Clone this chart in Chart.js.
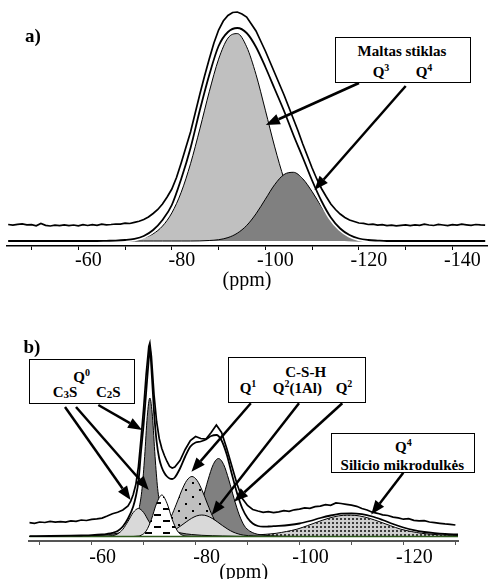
<!DOCTYPE html>
<html>
<head>
<meta charset="utf-8">
<script src="https://cdn.jsdelivr.net/npm/chart.js@4.4.0/dist/chart.umd.min.js"></script>
<style>
    body { margin: 0; background: #fff; }
    #wrap { position: relative; width: 488px; height: 579px; overflow: hidden; font-family: "Liberation Serif", "Times New Roman", serif; }
    canvas { position: absolute; left: 0; }
    #chartA { top: 0; }
    #chartB { top: 290px; }
    .box { position: absolute; border: 1.5px solid #000; background: #fff; box-sizing: border-box; }
    .lbl { position: absolute; font-weight: bold; font-size: 15px; line-height: 1; white-space: nowrap; transform: translate(-50%, -50%); color: #000; }
    .panel { font-size: 19px; }
    .lbl sup { font-size: 10px; line-height: 0; vertical-align: 6px; }
    .lbl sub { font-size: 11px; line-height: 0; vertical-align: -1px; }
</style>
</head>
<body>
<div id="wrap">
    <canvas id="chartA" width="488" height="290"></canvas>
    <canvas id="chartB" width="488" height="289"></canvas>

    <div class="lbl panel" style="left:33px; top:35px;">a)</div>
    <div class="box" style="left:334.7px; top:36.7px; width:136px; height:46px;"></div>
    <div class="lbl" style="left:402px; top:51px;">Maltas stiklas</div>
    <div class="lbl" style="left:381px; top:71.5px;">Q<sup>3</sup></div>
    <div class="lbl" style="left:424px; top:71.5px;">Q<sup>4</sup></div>

    <div class="lbl panel" style="left:32px; top:346px;">b)</div>
    <div class="box" style="left:29.3px; top:359.3px; width:105.7px; height:44.7px;"></div>
    <div class="lbl" style="left:81.7px; top:376.7px;">Q<sup>0</sup></div>
    <div class="lbl" style="left:65px; top:392.3px;">C<sub>3</sub>S</div>
    <div class="lbl" style="left:108.3px; top:392.3px;">C<sub>2</sub>S</div>

    <div class="box" style="left:228.3px; top:356.5px; width:137.4px; height:46.8px;"></div>
    <div class="lbl" style="left:305.7px; top:371.7px;">C-S-H</div>
    <div class="lbl" style="left:248px; top:387.5px;">Q<sup>1</sup></div>
    <div class="lbl" style="left:297.3px; top:387.5px;">Q<sup>2</sup>(1Al)</div>
    <div class="lbl" style="left:344px; top:387.5px;">Q<sup>2</sup></div>

    <div class="box" style="left:331.3px; top:432.7px; width:143.4px; height:40px;"></div>
    <div class="lbl" style="left:403.3px; top:446.5px;">Q<sup>4</sup></div>
    <div class="lbl" style="left:402.3px; top:464.5px;">Silicio mikrodulkės</div>
</div>

<script>
// ---------- a) ground glass ----------
const aPpm = [-45, -48, -50, -52, -54, -56, -58, -60, -62, -64,
    -66, -68, -70, -72, -74, -76, -78, -80, -82, -84,
    -86, -88, -90, -92, -94, -96, -98, -100, -102, -104,
    -106, -108, -110, -112, -114, -116, -118, -120, -122, -124,
    -126, -128, -130, -132, -134, -136, -138, -140, -142, -144, -147];
const q3Glass = [0, 0, 0, 0, 0, 0, 0, 0, 0, 0,
    0.1, 0.2, 0.5, 1.3, 3.2, 7.2, 14.9, 28.1, 48.7, 77.3,
    112.2, 149.2, 181.8, 202.9, 207.4, 194.2, 166.5, 130.8, 94.1, 62,
    37.4, 20.7, 10.5, 4.9, 2.1, 0.8, 0.3, 0.1, 0, 0,
    0, 0, 0, 0, 0, 0, 0, 0, 0, 0, 0];
const q4Glass = [0, 0, 0, 0, 0, 0, 0, 0, 0, 0,
    0, 0, 0, 0, 0, 0, 0, 0, 0, 0,
    0.1, 0.5, 1.3, 3.4, 7.8, 15.5, 27.2, 41.8, 56.4, 66.5,
    68.7, 62.2, 49.4, 34.3, 20.9, 11.2, 5.2, 2.1, 0.8, 0.3,
    0, 0, 0, 0, 0, 0, 0, 0, 0, 0, 0];
const fitA = [0, 0, 0, 0, 0, 0, 0, 0, 0, 0,
    0.2, 0.4, 1, 2.2, 5, 11, 21, 36, 62, 93,
    131, 166, 195, 209, 213, 208, 194, 174, 152, 130,
    106, 83.5, 60.5, 40, 23.5, 12.5, 6, 2.5, 1, 0.4,
    0, 0, 0, 0, 0, 0, 0, 0, 0, 0, 0];

const expAPpm = [-45, -46, -47, -48, -49, -50, -51, -52, -53, -54,
    -55, -56, -57, -58, -59, -60, -61, -62, -63, -64,
    -65, -66, -67, -68, -69, -70, -71, -72, -73, -74,
    -75, -76, -77, -78, -79, -80, -81, -82, -83, -84,
    -85, -86, -87, -88, -89, -90, -91, -92, -93, -94,
    -95, -96, -97, -98, -99, -100, -101, -102, -103, -104,
    -105, -106, -107, -108, -109, -110, -111, -112, -113, -114,
    -115, -116, -117, -118, -119, -120, -121, -122, -123, -124,
    -125, -126, -127, -128, -129, -130, -131, -132, -133, -134,
    -135, -136, -137, -138, -139, -140, -141, -142, -143, -144,
    -145, -146, -147];
const expA = [0.5, -0.2, 0.6, 1.2, 0.1, 0.4, -0.8, 1.5, -0.4, -1.0,
    -0.2, -0.7, 0.2, -0.6, 0.0, -0.9, 0.3, -0.5, 0.4, -0.3,
    0.8, 0.2, 0.5, 1.0, 0.9, 1.8, 1.5, 2.6, 3.8, 5.5,
    8, 11.5, 15.5, 21, 28, 36, 47.5, 62, 77.5, 93,
    112, 131, 149, 166, 182, 195, 204, 209.5, 212.5, 213,
    211, 208, 201, 194, 184, 174, 163, 152, 141, 130,
    118, 106, 94, 81, 69, 57, 46, 36.5, 28.5, 21,
    15.5, 11, 7.5, 5, 3.5, 2, 1.6, 0.5, 0.9, -0.2,
    0.4, -0.7, -0.1, -0.9, -0.4, 0.2, -0.6, 0.1, -0.3, 0.8,
    0.0, -0.5, 0.6, 0.0, -0.6, 0.3, -0.2, 0.9, 0.2, -0.4,
    0.5, 0.1, -0.1];

// ---------- b) hydrated paste ----------
const c3sPpm = [-48, -62, -64, -65, -66, -67, -68, -69, -70, -71, -72, -73, -74, -76, -78, -130.5];
const c3s = [0, 0.3, 0.9, 2.6, 7.2, 15.2, 24, 28, 24, 15.2, 7.2, 2.6, 0.9, 0.3, 0, 0];

const c2sPpm = [-48, -51.2, -57.2, -61.2, -63.2, -65.2, -66.2, -67.2, -68.2, -68.7,
    -69.2, -69.7, -70.2, -70.7, -71.2, -71.7, -72.2, -72.7, -73.2, -73.7,
    -74.2, -75.2, -76.2, -77.2, -79.2, -81.2, -85.2, -91.2, -130.5];
const c2s = [0, 0, 0.5, 1.2, 2, 3.5, 5, 8, 14, 20,
    30, 48, 80, 120, 138.5, 120, 80, 48, 30, 20,
    14, 8, 5, 3.5, 2, 1.2, 0.5, 0, 0];

const dashPpm = [-48, -67.5, -68.5, -69.5, -70.5, -71.5, -72.5, -73.5, -74.5, -75.5, -76.5, -77.5, -78.5, -79.5, -130.5];
const dashPeak = [0, 0, 0.2, 1.2, 5.6, 17.1, 33.2, 41.5, 33.2, 17.1, 5.6, 1.2, 0.2, 0, 0];

const q1Ppm = [-48, -67.3, -69.3, -71.3, -72.3, -73.3, -74.3, -75.3, -76.3, -77.3, -78.3, -79.3,
    -80.3, -81.3, -82.3, -83.3, -84.3, -85.3, -86.3, -87.3, -89.3, -91.3, -130.5];
const q1 = [0, 0, 0.5, 1.5, 2.8, 5.3, 11, 20, 32.4, 45.6, 56, 60,
    56, 45.6, 32.4, 20, 11, 5.3, 2.8, 1.5, 0.5, 0, 0];

const q2AlPpm = [-48, -67.2, -69.2, -71.2, -73.2, -74.2, -75.2, -76.2, -77.2, -78.2, -79.2, -80.2, -81.2,
    -82.2, -83.2, -84.2, -85.2, -86.2, -87.2, -88.2, -89.2, -91.2, -93.2, -95.2, -130.5];
const q2Al = [0, 0, 0.2, 0.6, 1.4, 2.6, 4.5, 7.3, 10.8, 14.6, 18.1, 20.6, 21.5,
    20.6, 18.1, 14.6, 10.8, 7.3, 4.5, 2.6, 1.4, 0.6, 0.2, 0, 0];

const q2Ppm = [-48, -69.4, -72.4, -74.4, -76.4, -77.4, -78.4, -79.4, -80.4, -81.4, -82.4, -83.4, -84.4,
    -85.4, -86.4, -87.4, -88.4, -89.4, -90.4, -91.4, -92.4, -94.4, -96.4, -99.4, -130.5];
const q2 = [0, 0, 0.3, 0.8, 1.8, 3, 5.5, 10.6, 21.7, 38, 56.6, 72, 78,
    72, 56.6, 38, 21.7, 10.6, 5.5, 3, 1.8, 0.8, 0.3, 0, 0];

const silicaPpm = [-48, -73.5, -79.5, -85.5, -89.5, -91.5, -93.5, -95.5, -97.5, -99.5, -101.5, -103.5, -105.5,
    -107.5, -109.5, -111.5, -113.5, -115.5, -117.5, -119.5, -121.5, -123.5, -125.5, -127.5, -129.5, -130.5];
const silica = [0, 0, 0.2, 0.6, 1.1, 1.5, 2.2, 3.2, 5, 7.3, 10.8, 14.6, 18.1,
    20.6, 21.5, 20.6, 18.1, 14.6, 10.8, 7.3, 5, 3.2, 2.2, 1.5, 1.1, 1.0];

const fitBPpm = [-48, -52, -56, -58, -60, -62, -63, -64, -65, -66,
    -67, -68, -68.5, -69, -69.5, -70, -70.5, -71, -71.2, -71.5,
    -72, -72.5, -73, -73.5, -74, -74.5, -75, -75.5, -76, -77,
    -78, -79, -80, -81, -82, -83, -84, -85, -86, -87,
    -88, -89, -90, -91, -92, -93, -94, -95, -96, -98,
    -100, -102, -104, -106, -108, -110, -112, -114, -116, -118,
    -120, -122, -124, -126, -128, -130.5];
const fitB = [0.3, 0.5, 0.8, 1.0, 1.3, 2.0, 2.7, 3.7, 5.5, 10,
    18, 30, 40, 55, 85, 112, 145, 178, 189, 168,
    125, 95, 78, 69, 63.5, 60, 58, 57.5, 59, 68,
    80, 90, 94, 95, 97, 100.5, 101.5, 96, 82, 62,
    43, 28, 18.5, 13, 10.5, 9.8, 10, 10.3, 10.6, 11.5,
    13, 15.5, 18.5, 21, 22.8, 23.2, 22.3, 20, 16.5, 12.5,
    9, 6.3, 4.5, 3.3, 2.5, 2];

const expBPpm = [-48, -49, -50, -51, -52, -53, -54, -55, -56, -57,
    -58, -59, -60, -61, -62, -63, -64, -65, -66, -67,
    -67.5, -68, -68.5, -69, -69.5, -70, -70.5, -71, -71.2, -71.5,
    -72, -72.5, -73, -73.5, -74, -74.5, -75, -75.5,
    -76, -77, -78, -79, -80, -81, -82, -83, -84, -85,
    -86, -87, -88, -89, -90, -91, -92, -93, -94, -95,
    -96, -97, -98, -99, -100, -101, -102, -103, -104, -105,
    -106, -107, -108, -109, -110, -111, -112, -113, -114, -115,
    -116, -117, -118, -119, -120, -121, -122, -123, -124, -125,
    -126, -127, -128, -129, -130];
const expB = [0.3, -0.3, 1.0, 0.5, 1.7, 0.8, 1.4, 0.9, 2.1, 1.6,
    3.0, 2.5, 3.7, 4.1, 4.9, 7.0, 9.3, 10.8, 13.0, 17.0,
    21.5, 28.5, 38.5, 56.5, 84.5, 114.5, 149.5, 176.5, 180, 166.5,
    128.5, 101.5, 84.5, 74.5, 67.5, 61.5, 56.5, 55,
    56, 62.5, 73.5, 82.5, 86.5, 84.5, 84, 90.5, 98, 90.5,
    74.5, 56.5, 38.5, 24.5, 17.5, 13.5, 12, 10.7, 11.3, 10.4,
    11.1, 12.3, 11.7, 13.2, 13.9, 15.1, 14.6, 16.3, 16.9, 18.3,
    17.7, 20.1, 19.5, 18.7, 17.8, 16.7, 14.5, 13.0, 10.8, 9.7,
    8.1, 7.5, 5.9, 5.1, 3.8, 4.3, 2.7, 2.1, 2.4, 1.0,
    0.3, -0.3, -0.9, -1.3, -2.0];
const baseBPpm = [-48, -130.5];
const baseB = [0, 0];

// display offsets of the measured spectra above the fitted curves
const expOffsetA = 16;
const expOffsetB = 13.5;

function pts(xs, ys, shift) {
    return xs.map(function(v, i) { return { x: v, y: ys[i] + (shift || 0) }; });
}

function makePattern(w, h, bg, fg, draw) {
    const c = document.createElement('canvas');
    c.width = w; c.height = h;
    const g = c.getContext('2d');
    g.fillStyle = bg;
    g.fillRect(0, 0, w, h);
    g.fillStyle = fg;
    draw(g);
    return g.createPattern(c, 'repeat');
}

const dotFill = makePattern(14, 14, '#c0c0c0', '#000', function(g) {
    g.fillRect(3, 3, 2, 2);
    g.fillRect(10, 10, 2, 2);
});
const dashFill = makePattern(18, 12, '#ffffff', '#000', function(g) {
    g.fillRect(1, 2, 7, 2);
    g.fillRect(10, 8, 7, 2);
});
const gridFill = makePattern(4, 4, '#cfcfcf', '#3c3c3c', function(g) {
    g.fillRect(0, 0, 2, 2);
});

// arrows: tail in canvas pixels, tip in data units (ppm, intensity)
function arrowPlugin(list) {
    return {
        id: 'arrows',
        afterDatasetsDraw: function(chart) {
            const ctx = chart.ctx;
            const xs = chart.scales.x, ys = chart.scales.y;
            ctx.save();
            ctx.strokeStyle = '#000';
            ctx.fillStyle = '#000';
            ctx.lineWidth = 2.5;
            list.forEach(function(a) {
                const x0 = a.from[0], y0 = a.from[1];
                const x1 = xs.getPixelForValue(a.to[0]), y1 = ys.getPixelForValue(a.to[1]);
                const ang = Math.atan2(y1 - y0, x1 - x0);
                const hl = 14, hw = 5.5;
                const bx = x1 - hl * Math.cos(ang), by = y1 - hl * Math.sin(ang);
                ctx.beginPath();
                ctx.moveTo(x0, y0);
                ctx.lineTo(bx, by);
                ctx.stroke();
                ctx.beginPath();
                ctx.moveTo(x1, y1);
                ctx.lineTo(bx + hw * Math.sin(ang), by - hw * Math.cos(ang));
                ctx.lineTo(bx - hw * Math.sin(ang), by + hw * Math.cos(ang));
                ctx.closePath();
                ctx.fill();
            });
            ctx.restore();
        }
    };
}

function xAxis(min, max, height, labelOffset, tickPad, titlePad, color, width) {
    return {
        type: 'linear',
        reverse: true,
        min: min,
        max: max,
        afterFit: function(scale) { scale.height = height; },
        border: { display: true, color: color, width: width },
        grid: { drawOnChartArea: false, drawTicks: true, tickLength: 4, color: color, tickColor: color },
        ticks: {
            stepSize: 10,
            autoSkip: false,
            maxRotation: 0,
            includeBounds: false,
            padding: tickPad,
            labelOffset: labelOffset,
            color: '#000',
            font: { family: 'Liberation Serif', size: 20, lineHeight: 1 },
            callback: function(v) { return v % 20 === 0 ? String(v) : ''; }
        },
        title: {
            display: true,
            text: '(ppm)',
            color: '#000',
            font: { family: 'Liberation Serif', size: 20, lineHeight: 1 },
            padding: { top: 0, bottom: titlePad }
        }
    };
}

const lineBase = { pointRadius: 0, cubicInterpolationMode: 'monotone', fill: false };

Chart.defaults.font.family = 'Liberation Serif';

new Chart(document.getElementById('chartA'), {
    type: 'line',
    data: {
        datasets: [
            Object.assign({}, lineBase, { label: 'Eksperimentas', data: pts(expAPpm, expA, expOffsetA), borderColor: '#000', borderWidth: 1.7, tension: 0, cubicInterpolationMode: 'default', order: 0 }),
            Object.assign({}, lineBase, { label: 'Suma', data: pts(aPpm, fitA), borderColor: '#000', borderWidth: 1.8, order: 1 }),
            Object.assign({}, lineBase, { label: 'halo', data: pts(aPpm, fitA), borderColor: '#fff', borderWidth: 5, order: 2 }),
            Object.assign({}, lineBase, { label: 'Q4', data: pts(aPpm, q4Glass), borderColor: '#000', borderWidth: 1, backgroundColor: '#808080', fill: 'origin', order: 3 }),
            Object.assign({}, lineBase, { label: 'Q3', data: pts(aPpm, q3Glass), borderColor: '#000', borderWidth: 1, backgroundColor: '#c0c0c0', fill: 'origin', order: 4 })
        ]
    },
    options: {
        responsive: false,
        animation: false,
        events: [],
        layout: { padding: { left: 7, right: 1, top: 5, bottom: 0 } },
        plugins: { legend: { display: false }, tooltip: { enabled: false } },
        scales: {
            x: xAxis(-147.4, -44.75, 44, 10, 1, -1, '#000', 1.5),
            y: { display: false, min: -5, max: 236 }
        }
    },
    plugins: [arrowPlugin([
        { from: [359, 83], to: [-100.1, 116] },
        { from: [405.7, 86], to: [-110.5, 51] }
    ])]
});

new Chart(document.getElementById('chartB'), {
    type: 'line',
    data: {
        datasets: [
            Object.assign({}, lineBase, { label: 'Eksperimentas', data: pts(expBPpm, expB, expOffsetB), borderColor: '#000', borderWidth: 1.7, tension: 0, cubicInterpolationMode: 'default', order: 0 }),
            Object.assign({}, lineBase, { label: 'Suma', data: pts(fitBPpm, fitB), borderColor: '#000', borderWidth: 1.8, order: 1 }),
            Object.assign({}, lineBase, { label: 'Bazinė linija', data: pts(baseBPpm, baseB), borderColor: '#2f5a1c', borderWidth: 1.5, order: 3 }),
            Object.assign({}, lineBase, { label: 'C3S b', data: pts(dashPpm, dashPeak), borderColor: '#000', borderWidth: 1, backgroundColor: dashFill, fill: 'origin', order: 4 }),
            Object.assign({}, lineBase, { label: 'C3S', data: pts(c3sPpm, c3s), borderColor: '#000', borderWidth: 1, backgroundColor: '#d9d9d9', fill: 'origin', order: 5 }),
            Object.assign({}, lineBase, { label: 'C2S', data: pts(c2sPpm, c2s), borderColor: '#000', borderWidth: 1, backgroundColor: '#808080', fill: 'origin', order: 6 }),
            Object.assign({}, lineBase, { label: 'Q2(1Al)', data: pts(q2AlPpm, q2Al), borderColor: '#000', borderWidth: 1, backgroundColor: '#d9d9d9', fill: 'origin', order: 7 }),
            Object.assign({}, lineBase, { label: 'Q1', data: pts(q1Ppm, q1), borderColor: '#000', borderWidth: 1, backgroundColor: dotFill, fill: 'origin', order: 8 }),
            Object.assign({}, lineBase, { label: 'Q2', data: pts(q2Ppm, q2), borderColor: '#000', borderWidth: 1, backgroundColor: '#808080', fill: 'origin', order: 9 }),
            Object.assign({}, lineBase, { label: 'Q4', data: pts(silicaPpm, silica), borderColor: '#000', borderWidth: 1, backgroundColor: gridFill, fill: 'origin', order: 10 })
        ]
    },
    options: {
        responsive: false,
        animation: false,
        events: [],
        layout: { padding: { left: 29.3, right: 30, top: 40, bottom: 0 } },
        plugins: { legend: { display: false }, tooltip: { enabled: false } },
        scales: {
            x: xAxis(-130.5, -48, 38, 11, 3, -4, '#555', 2),
            y: { display: false, min: -4.5, max: 206.5 }
        }
    },
    plugins: [arrowPlugin([
        { from: [65, 117], to: [-67.5, 36.5] },
        { from: [76, 117], to: [-71.0, 46.5] },
        { from: [98.3, 115], to: [-69.7, 106.5] },
        { from: [250.8, 113.3], to: [-79.2, 64.8] },
        { from: [299, 113.3], to: [-83.1, 21.5] },
        { from: [342.3, 113.3], to: [-87.4, 34.8] },
        { from: [403.3, 182.7], to: [-113.8, 22] }
    ])]
});
</script>
</body>
</html>
